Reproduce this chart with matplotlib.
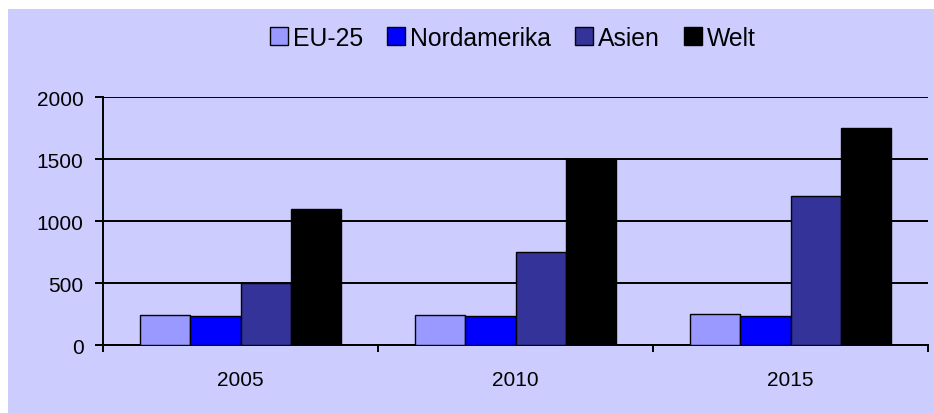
import matplotlib
matplotlib.use("Agg")
import matplotlib.pyplot as plt
from matplotlib.patches import Rectangle
import numpy as np

plt.rcParams['font.family'] = ['Liberation Sans', 'DejaVu Sans']

years = ["2005", "2010", "2015"]
series_names = ["EU-25", "Nordamerika", "Asien", "Welt"]
eu25 = [240, 245, 250]
nordamerika = [235, 235, 235]
asien = [500, 750, 1200]
welt = [1100, 1500, 1750]
colors = ["#9999FF", "#0000FF", "#333399", "#000000"]
yticks = [0, 500, 1000, 1500, 2000]

W, H = 934, 414
fig = plt.figure(figsize=(W / 100, H / 100), dpi=100)
fig.patch.set_facecolor("white")
fig.patches.append(Rectangle((8 / W, 0), 1 - 8 / W, (H - 10) / H,
                             transform=fig.transFigure, facecolor="#CCCCFF",
                             edgecolor="none", zorder=-10))

ax = fig.add_axes([103 / W, 1 - 346 / H, (928 - 103) / W, (346 - 98) / H])
ax.set_facecolor("none")
ax.set_zorder(2)

x = np.arange(len(years))
n = len(series_names)
bw = 0.7273 / n
data = [eu25, nordamerika, asien, welt]
for i, (vals, name, c) in enumerate(zip(data, series_names, colors)):
    ax.bar(x - 0.7273 / 2 + bw * (i + 0.5), vals, bw, color=c,
           edgecolor="black", linewidth=1.0, label=name, zorder=3)

ax.set_xlim(-0.5, len(years) - 0.5)
ax.set_ylim(0, 2000)
ax.set_yticks(yticks)
ax.set_yticklabels([str(v) for v in yticks])
ax.yaxis.grid(True, color="black", linewidth=1.4, zorder=1)
ax.set_axisbelow(True)
ax.set_xticks(x)
ax.set_xticklabels(years)
ax.set_xticks(np.arange(len(years) + 1) - 0.5, minor=True)
ax.tick_params(axis="x", which="major", length=0, pad=18, labelsize=15)
ax.tick_params(axis="x", which="minor", length=5, width=1.4, direction="out")
ax.tick_params(axis="y", length=6, width=1.4, pad=8, labelsize=15)
for s in ["top", "right"]:
    ax.spines[s].set_visible(False)
for s in ["left", "bottom"]:
    ax.spines[s].set_linewidth(1.4)
    ax.spines[s].set_color("black")

leg = fig.legend(loc="center", bbox_to_anchor=(513 / W, 1 - 38.5 / H), ncol=4,
                 frameon=False, fontsize=17.8, handlelength=0.73, handleheight=0.7,
                 handletextpad=0.22, columnspacing=0.95, borderaxespad=0)

fig.savefig("out.png", dpi=100)
